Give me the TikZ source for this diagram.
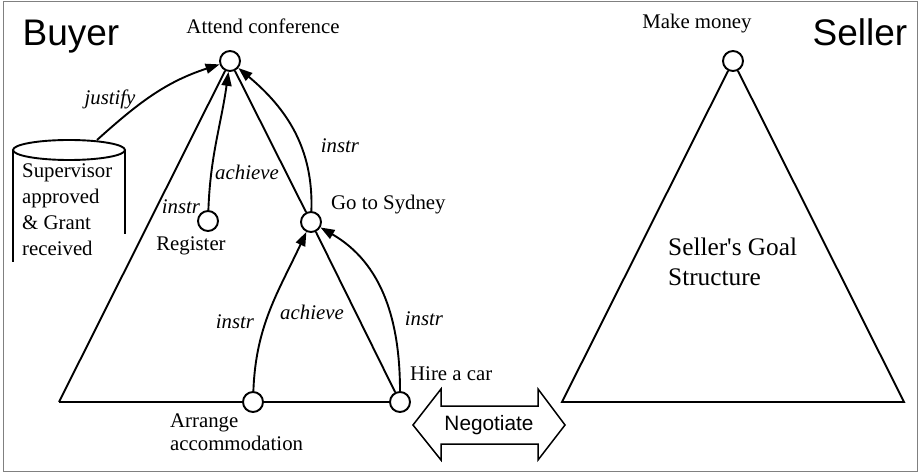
\documentclass[tikz,border=0pt]{standalone}
\usepackage{fontspec}
\setmainfont{Liberation Serif}
\setsansfont{Liberation Sans}
\usetikzlibrary{arrows.meta}
\tikzset{%
    vtx/.style={circle,draw,line width=1.9pt,fill=white,minimum size=20pt,inner sep=0pt},
    edg/.style={line width=1.9pt},
    rel/.style={line width=1.9pt,-{Triangle[length=14pt,width=10pt]}},
    txt/.style={font=\fontsize{20.8}{25}\selectfont,inner sep=0pt},
    rtxt/.style={font=\fontsize{20.8}{25}\selectfont\itshape,inner sep=0pt},
    big/.style={font=\sffamily\fontsize{37}{44}\selectfont,inner sep=0pt}
}

\begin{document}
\begin{tikzpicture}[x=1pt,y=1pt]
        \useasboundingbox (0,0) rectangle (919,-473);
        \draw[gray,line width=1pt] (3,-2) rectangle (917,-471);

        % buyer goals
        \node[vtx] (attend) at (230,-61){};
        \node[vtx] (reg) at (208,-221){};
        \node[vtx] (sydney) at (311,-222){};
        \node[vtx] (arrange) at (253,-402){};
        \node[vtx] (hire) at (400,-402){};
        \coordinate (bl) at (59,-402);

        % seller goals
        \node[vtx] (money) at (733,-61){};
        \coordinate (sl) at (562,-402);
        \coordinate (sr) at (904,-402);

        % buyer triangle
        \draw[edg] (bl) -- (attend);
        \draw[edg] (attend) -- (sydney) -- (hire);
        \draw[edg] (bl) -- (arrange) -- (hire);

        % seller triangle
        \draw[edg] (money) -- (sl) -- (sr) -- (money);

        % stored condition
        \draw[edg] (69,-150) ellipse (56 and 10);
        \draw[edg] (13,-150) -- (13,-262);
        \draw[edg] (125,-150) -- (125,-234);
        \coordinate (store) at (97,-140);

        % relations
        \draw[rel] (store) to[out=42,in=198] (attend);
        \draw[rel] (reg) to[out=88,in=262] (attend);
        \draw[rel] (sydney) to[out=88,in=-40] (attend);
        \draw[rel] (arrange) to[out=88,in=245] (sydney);
        \draw[rel] (hire) to[out=90,in=-30] (sydney);

        % negotiation
        \draw[edg,line width=1.5pt] (413,-425) -- (441,-389) -- (441,-406) -- (538,-406) -- (538,-389)
            -- (565,-425) -- (538,-460) -- (538,-444) -- (441,-444) -- (441,-460) -- cycle;
        \node[txt,font=\sffamily\fontsize{20.8}{25}\selectfont] (neg) at (489,-425){Negotiate};

        % labels
        \node[big] (buyer) at (71,-37){Buyer};
        \node[big] (seller) at (860,-32){Seller};
        \node[txt] (lattend) at (263,-26){Attend conference};
        \node[txt] (lmoney) at (697,-24){Make money};
        \node[txt] (lreg) at (191,-246){Register};
        \node[txt,anchor=west] (lsyd) at (331,-205){Go to Sydney};
        \node[txt,anchor=west] (lhire) at (410,-374){Hire a car};
        \node[txt,anchor=west,align=left,font=\fontsize{20.8}{23}\selectfont] (larr) at (170,-432){Arrange\\accommodation};
        \node[txt,anchor=west,align=left,font=\fontsize{20.8}{26}\selectfont] (lstore) at (22,-210){Supervisor\\approved\\\& Grant\\received};
        \node[txt,anchor=west,align=left,font=\fontsize{25.3}{30}\selectfont] (lgoal) at (668,-262){Seller\textquotesingle s Goal\\Structure};

        \node[rtxt] at (110,-99){justify};
        \node[rtxt] at (247,-172){achieve};
        \node[rtxt] at (181,-207){instr};
        \node[rtxt] at (340,-146){instr};
        \node[rtxt] at (235,-322){instr};
        \node[rtxt] at (312,-312){achieve};
        \node[rtxt] at (424,-319){instr};
    \end{tikzpicture}
\end{document}
